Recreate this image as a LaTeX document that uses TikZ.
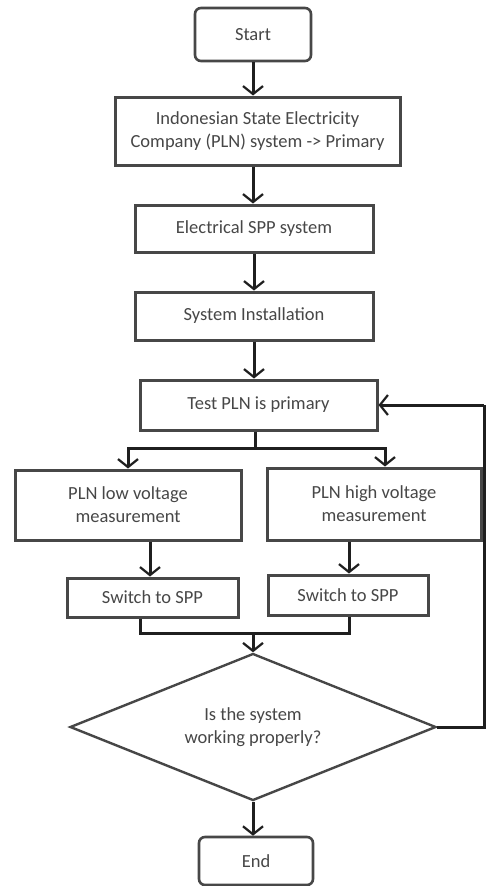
\documentclass[tikz,border=0pt]{standalone}
\usepackage{fontspec}
\setmainfont{Carlito}
\usetikzlibrary{arrows.meta,shapes.geometric}
\begin{document}
\begin{tikzpicture}[x=1pt,y=-1pt,
  box/.style={draw=black!72,line width=3pt,fill=white,inner sep=0pt,align=center,
    text=black!72,font=\fontsize{18.5}{23}\selectfont},
  term/.style={box,rounded corners=6pt,line width=2.6pt},
  dec/.style={box,diamond,aspect=2.49,line width=2.4pt},
  conn/.style={line width=3pt,black!88},
  arr/.style={conn,-{Straight Barb[length=8pt,width=20pt,line width=2.2pt]}}]
\useasboundingbox (0,0) rectangle (486,886);
\node[term,minimum width=116pt,minimum height=53pt] (start) at (253,34.5) {Start};
\node[box,minimum width=285pt,minimum height=68pt] (pln) at (257.5,131) {Indonesian State Electricity\\Company (PLN) system -> Primary};
\node[box,minimum width=238pt,minimum height=47pt] (spp) at (254,228.5) {Electrical SPP system};
\node[box,minimum width=238pt,minimum height=48pt] (inst) at (254,316) {System Installation};
\node[box,minimum width=237pt,minimum height=50pt] (test) at (258.5,405) {Test PLN is primary};
\node[box,minimum width=226pt,minimum height=70pt] (low) at (128,505) {PLN low voltage\\measurement};
\node[box,minimum width=214pt,minimum height=72pt] (high) at (374,504) {PLN high voltage\\measurement};
\node[box,minimum width=171pt,minimum height=39pt] (swl) at (152.5,597.5) {Switch to SPP};
\node[box,minimum width=160pt,minimum height=40pt] (swr) at (348,595) {Switch to SPP};
\node[dec,minimum width=366pt,minimum height=147pt] (dec) at (253,727) {Is the system\\working properly?};
\node[term,minimum width=114pt,minimum height=48pt] (end) at (256,861) {End};
\coordinate (split) at (255,448);
\coordinate (merge) at (253,633);
\coordinate (loop) at (484,405);
\draw[arr] (start.south) -- (start.south |- pln.north);
\draw[arr] (start.south |- pln.south) -- (start.south |- spp.north);
\draw[arr] (spp.south) -- (inst.north);
\draw[arr] (inst.south) -- (inst.south |- test.north);
\draw[conn] (split |- test.south) -- (split);
\draw[arr] (split) -| (low.north);
\draw[arr] (split) -| ([xshift=11pt]high.north);
\draw[arr] ([xshift=22pt]low.south) -- ([xshift=22pt]low.south |- swl.north);
\draw[arr] ([xshift=1pt]swr.north |- high.south) -- ([xshift=1pt]swr.north);
\draw[conn] ([xshift=-12pt]swl.south) |- (merge) -| ([xshift=1pt]swr.south);
\draw[arr] (merge) -- (dec.north);
\draw[arr] (dec.south) -- (dec.south |- end.north);
\draw[conn] (dec.east) -- (dec.east -| loop) -- (loop);
\draw[arr] (loop) -- (test.east);
\end{tikzpicture}
\end{document}
